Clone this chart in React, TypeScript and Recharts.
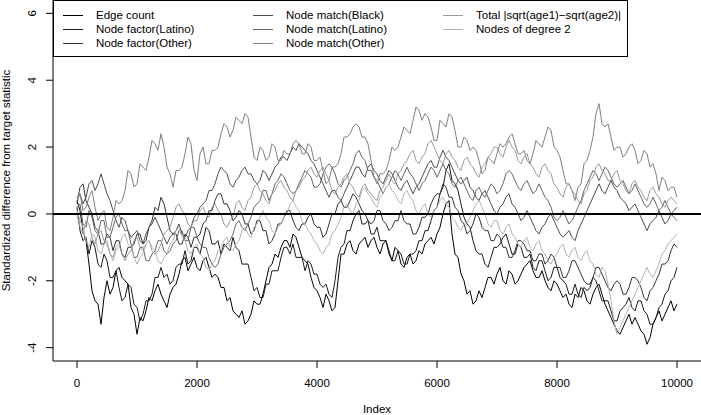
import React from 'react';
import { LineChart, Line, XAxis, YAxis, ReferenceLine, Legend } from 'recharts';

const indexValues = [
  0, 50, 100, 150, 200, 250, 300, 350, 400, 450,
  500, 550, 600, 650, 700, 750, 800, 850, 900, 950,
  1000, 1050, 1100, 1150, 1200, 1250, 1300, 1350, 1400, 1450,
  1500, 1550, 1600, 1650, 1700, 1750, 1800, 1850, 1900, 1950,
  2000, 2050, 2100, 2150, 2200, 2250, 2300, 2350, 2400, 2450,
  2500, 2550, 2600, 2650, 2700, 2750, 2800, 2850, 2900, 2950,
  3000, 3050, 3100, 3150, 3200, 3250, 3300, 3350, 3400, 3450,
  3500, 3550, 3600, 3650, 3700, 3750, 3800, 3850, 3900, 3950,
  4000, 4050, 4100, 4150, 4200, 4250, 4300, 4350, 4400, 4450,
  4500, 4550, 4600, 4650, 4700, 4750, 4800, 4850, 4900, 4950,
  5000, 5050, 5100, 5150, 5200, 5250, 5300, 5350, 5400, 5450,
  5500, 5550, 5600, 5650, 5700, 5750, 5800, 5850, 5900, 5950,
  6000, 6050, 6100, 6150, 6200, 6250, 6300, 6350, 6400, 6450,
  6500, 6550, 6600, 6650, 6700, 6750, 6800, 6850, 6900, 6950,
  7000, 7050, 7100, 7150, 7200, 7250, 7300, 7350, 7400, 7450,
  7500, 7550, 7600, 7650, 7700, 7750, 7800, 7850, 7900, 7950,
  8000, 8050, 8100, 8150, 8200, 8250, 8300, 8350, 8400, 8450,
  8500, 8550, 8600, 8650, 8700, 8750, 8800, 8850, 8900, 8950,
  9000, 9050, 9100, 9150, 9200, 9250, 9300, 9350, 9400, 9450,
  9500, 9550, 9600, 9650, 9700, 9750, 9800, 9850, 9900, 9950,
  10000,
];

const edgeCount = [
  0.4, 0.1, -0.5, -0.8, -1.5, -2.3, -2.6, -2.7, -3.3, -2.5, -2.0, -2.4, -2.2, -1.7, -1.6, -1.9, -2.0, -2.1, -2.8, -3.0,
  -3.6, -3.1, -3.2, -2.9, -2.5, -2.6, -2.3, -2.1, -2.4, -2.6, -2.8, -2.4, -2.2, -2.1, -1.8, -1.4, -1.3, -1.7, -1.5, -1.3,
  -1.6, -1.7, -1.4, -1.3, -1.6, -1.9, -1.8, -1.9, -2.2, -2.2, -2.6, -2.5, -2.9, -3.0, -3.1, -2.9, -3.3, -3.2, -3.0, -2.6,
  -2.7, -2.7, -2.4, -2.0, -1.6, -1.5, -1.2, -1.3, -1.0, -0.8, -0.8, -1.0, -0.6, -0.7, -1.0, -1.3, -1.4, -1.5, -1.9, -2.2,
  -2.3, -2.5, -2.8, -2.4, -2.6, -2.9, -2.8, -2.0, -1.2, -1.2, -0.9, -0.8, -1.1, -1.2, -0.9, -0.8, -0.7, -1.0, -0.8, -0.7,
  -1.0, -1.2, -0.9, -0.8, -1.2, -1.4, -1.0, -1.1, -1.5, -1.6, -1.3, -1.2, -1.5, -1.4, -1.1, -1.2, -0.9, -0.8, -0.7, -0.9,
  -0.6, -0.4, 0.0, 0.3, 0.4, -0.6, -1.2, -1.3, -1.8, -2.0, -2.4, -2.3, -2.7, -2.6, -2.3, -2.5, -2.2, -1.9, -1.9, -2.1,
  -1.8, -1.6, -2.0, -2.1, -1.7, -1.8, -2.1, -2.0, -1.8, -1.6, -1.5, -1.4, -1.7, -1.9, -1.9, -1.7, -2.0, -2.2, -2.3, -2.0,
  -2.1, -2.3, -2.5, -2.4, -2.7, -2.8, -2.4, -2.5, -2.2, -2.3, -2.6, -2.7, -2.4, -2.2, -2.1, -2.4, -2.7, -2.9, -3.1, -3.3,
  -3.5, -3.6, -3.4, -3.2, -3.0, -3.3, -3.1, -3.3, -3.5, -3.6, -3.9, -3.7, -3.3, -3.1, -2.9, -3.2, -3.0, -2.8, -2.6, -2.9,
  -2.7,
];

const nodeFactorLatino = [
  0.2, -0.5, -0.8, -0.7, -1.2, -0.8, -1.0, -1.5, -1.6, -1.2, -1.4, -1.9, -1.9, -1.7, -2.2, -2.6, -2.5, -2.1, -2.2, -2.7,
  -2.8, -3.2, -3.0, -2.6, -2.6, -2.4, -1.9, -1.9, -1.6, -1.9, -1.8, -2.1, -2.0, -1.6, -1.5, -1.5, -1.1, -1.5, -1.4, -1.0,
  -1.0, -1.2, -0.8, -0.4, -0.5, -0.9, -0.9, -0.8, -1.2, -0.9, -1.0, -1.1, -0.7, -1.0, -1.1, -1.5, -1.5, -1.5, -1.9, -2.3,
  -2.2, -2.5, -2.5, -2.1, -2.1, -1.7, -1.7, -1.7, -1.3, -1.0, -1.0, -1.2, -0.9, -1.3, -1.3, -1.3, -1.7, -1.4, -1.5, -1.8,
  -1.8, -2.1, -2.2, -2.1, -2.4, -2.5, -2.0, -1.3, -1.0, -0.9, -0.5, -0.5, -0.2, 0.0, 0.1, -0.3, -0.3, -0.2, -0.6, -0.6,
  -0.4, -0.8, -0.8, -0.8, -1.1, -1.4, -1.4, -1.1, -1.2, -1.5, -1.5, -1.2, -1.2, -1.1, -0.8, -0.8, -0.5, -0.5, -0.2, 0.1,
  0.2, 0.6, 0.8, 1.3, 1.5, 1.0, 0.9, 0.7, 0.3, -0.1, -0.3, -0.4, -0.8, -1.1, -1.2, -1.2, -1.5, -1.6, -1.3, -1.0,
  -1.0, -0.9, -0.7, -0.6, -0.9, -1.2, -1.2, -0.9, -1.0, -1.3, -1.3, -1.2, -1.6, -1.7, -1.4, -1.4, -1.7, -2.0, -1.9, -1.6,
  -1.6, -1.9, -2.0, -2.1, -2.4, -2.4, -2.1, -2.4, -2.5, -2.2, -2.3, -2.2, -1.9, -2.0, -2.3, -2.6, -2.6, -2.6, -2.9, -3.2,
  -3.2, -2.9, -2.8, -2.7, -2.5, -2.8, -2.9, -2.6, -2.6, -2.9, -3.0, -3.3, -3.3, -3.1, -2.8, -2.7, -2.4, -2.3, -2.0, -1.9,
  -1.6,
];

const nodeFactorOther = [
  0.3, 0.8, 0.9, 0.4, 0.2, 0.0, -0.4, -0.5, -0.9, -0.9, -0.6, -0.7, -1.1, -0.8, -0.8, -1.2, -1.3, -1.0, -1.0, -0.9,
  -0.6, -0.6, -0.9, -0.8, -0.4, -0.2, 0.2, 0.1, 0.5, 0.3, -0.1, -0.5, -0.6, -0.6, -0.9, -0.9, -0.6, -0.7, -1.0, -0.7,
  -0.7, -0.6, -0.3, -0.2, 0.1, 0.1, 0.4, 0.6, 0.6, 0.3, 0.3, 0.1, -0.2, -0.1, 0.1, 0.0, -0.3, -0.3, -0.6, -0.5,
  -0.2, -0.2, -0.5, -0.5, -0.9, -0.8, -0.6, -0.3, -0.3, -0.1, 0.1, 0.1, -0.2, -0.4, -0.5, -0.3, -0.3, -0.1, 0.0, -0.3,
  -0.4, -0.4, -0.7, -0.6, -0.3, 0.0, 0.0, 0.3, 0.4, 0.2, 0.2, 0.4, 0.6, 0.5, 0.3, 0.1, 0.0, -0.2, -0.3, -0.2,
  0.1, 0.1, -0.2, -0.3, -0.5, -0.4, -0.2, -0.2, 0.1, -0.2, -0.3, -0.3, -0.6, -0.6, -0.4, -0.1, -0.1, 0.0, 0.3, 0.5,
  0.6, 0.6, 0.9, 0.8, 0.5, 0.5, 0.2, 0.1, -0.2, -0.3, -0.6, -0.5, -0.3, 0.0, -0.1, -0.4, -0.5, -0.5, -0.8, -0.8,
  -0.6, -0.7, -1.0, -1.0, -1.3, -1.3, -1.1, -0.8, -0.8, -0.9, -1.1, -1.1, -1.4, -1.4, -1.2, -1.2, -1.5, -1.4, -1.2, -1.3,
  -1.6, -1.6, -1.9, -1.9, -1.7, -1.4, -1.4, -1.6, -1.8, -2.0, -2.1, -2.1, -1.9, -1.6, -1.6, -1.8, -2.0, -2.2, -2.3, -2.1,
  -2.0, -2.1, -2.4, -2.4, -2.2, -1.9, -1.9, -2.0, -2.2, -2.5, -2.6, -2.3, -2.2, -2.0, -1.8, -1.5, -1.5, -1.4, -1.1, -0.9,
  -1.0,
];

const nodeMatchBlack = [
  0.5, 0.6, 0.3, 0.5, 0.9, 1.0, 0.7, 0.9, 1.2, 0.9, 0.6, 0.4, 0.1, -0.2, -0.4, -0.1, -0.2, -0.5, -0.7, -0.6,
  -0.5, -0.8, -0.9, -0.6, -0.4, -0.3, -0.1, -0.3, -0.5, -0.7, -0.9, -0.7, -0.6, -0.5, -0.3, -0.6, -0.7, -0.5, -0.4, -0.1,
  0.0, 0.2, 0.3, 0.4, 0.7, 0.7, 0.9, 1.2, 1.4, 1.3, 1.2, 0.9, 0.8, 1.0, 1.1, 1.3, 1.4, 1.2, 1.2, 1.0,
  0.9, 1.0, 1.3, 1.2, 1.0, 1.2, 1.4, 1.5, 1.7, 1.7, 1.6, 1.8, 2.0, 1.9, 2.1, 2.0, 1.9, 1.8, 1.6, 1.5,
  1.3, 1.1, 0.9, 0.7, 0.5, 0.7, 0.7, 0.5, 0.4, 0.6, 0.8, 1.0, 1.2, 1.4, 1.4, 1.2, 1.1, 1.4, 1.5, 1.3,
  1.2, 1.0, 0.9, 1.1, 1.3, 1.2, 1.0, 0.8, 0.7, 0.9, 1.0, 0.8, 0.6, 0.8, 0.9, 1.1, 1.3, 1.5, 1.6, 1.4,
  1.4, 1.7, 1.9, 1.7, 1.6, 1.4, 1.2, 1.0, 0.9, 1.0, 1.1, 0.8, 0.7, 0.5, 0.4, 0.6, 0.7, 0.5, 0.3, 0.1,
  0.0, 0.2, 0.3, 0.5, 0.6, 0.3, 0.2, 0.0, -0.2, -0.1, 0.1, -0.1, -0.3, -0.5, -0.6, -0.4, -0.3, -0.1, 0.0, -0.2,
  -0.4, -0.6, -0.7, -0.6, -0.5, -0.7, -0.8, -0.5, -0.3, -0.1, 0.1, 0.3, 0.5, 0.7, 0.9, 0.7, 0.6, 0.8, 1.0, 0.8,
  0.7, 0.5, 0.4, 0.3, 0.1, 0.2, 0.3, 0.1, -0.1, -0.3, -0.5, -0.3, -0.2, -0.1, 0.1, -0.1, -0.3, -0.2, 0.0, 0.1,
  0.2,
];

const nodeMatchLatino = [
  0.2, 0.3, -0.3, -0.4, 0.1, -0.1, -0.5, -0.6, -0.2, -0.2, -0.7, -0.7, -0.4, -0.1, 0.0, -0.3, -0.5, -0.5, -0.9, -1.3,
  -1.3, -1.0, -1.0, -1.4, -1.4, -1.2, -1.1, -0.8, -0.8, -1.1, -1.2, -1.1, -0.9, -0.8, -0.5, -0.5, -0.8, -0.8, -0.4, -0.4,
  -0.7, -0.9, -1.0, -1.0, -1.3, -1.5, -1.6, -1.5, -1.2, -1.0, -0.9, -0.8, -0.6, -0.3, -0.2, -0.4, -0.5, -0.3, -0.1, 0.2,
  0.3, 0.4, 0.7, 0.7, 0.4, 0.6, 0.9, 1.0, 1.2, 1.1, 0.9, 0.7, 0.6, 0.7, 0.9, 1.1, 1.3, 1.2, 1.1, 0.8,
  0.8, 0.9, 1.2, 1.4, 1.5, 1.4, 1.2, 0.9, 0.8, 1.0, 1.1, 1.3, 1.5, 1.8, 1.9, 1.7, 1.6, 1.3, 1.3, 1.1,
  1.0, 0.8, 0.6, 0.8, 0.9, 1.1, 1.3, 1.2, 1.0, 1.2, 1.4, 1.2, 1.1, 0.9, 0.7, 0.9, 1.0, 1.2, 1.4, 1.3,
  1.1, 1.3, 1.5, 1.3, 1.2, 0.9, 0.8, 1.0, 1.1, 0.9, 0.7, 0.5, 0.4, 0.7, 0.8, 0.6, 0.5, 0.7, 0.9, 0.8,
  0.6, 0.7, 0.9, 1.2, 1.3, 1.2, 1.0, 0.8, 0.7, 0.9, 1.0, 0.8, 0.6, 0.7, 0.9, 0.7, 0.5, 0.4, 0.2, -0.1,
  -0.2, -0.1, 0.1, -0.1, -0.3, -0.2, 0.0, 0.2, 0.4, 0.7, 0.9, 1.1, 1.3, 1.2, 1.0, 1.2, 1.4, 1.3, 1.1, 0.9,
  0.8, 0.9, 1.0, 0.8, 0.6, 0.7, 0.9, 0.7, 0.5, 0.3, 0.2, 0.3, 0.5, 0.3, 0.1, 0.2, 0.4, 0.2, 0.0, -0.1,
  -0.2,
];

const nodeMatchOther = [
  0.4, 0.6, 0.1, 0.2, 0.5, 0.7, 0.2, -0.2, 0.0, 0.1, -0.4, -0.5, -0.1, 0.4, 0.3, 0.4, 0.7, 1.3, 1.2, 0.8,
  0.9, 1.5, 1.4, 1.3, 1.7, 2.2, 2.1, 1.9, 2.4, 2.0, 1.4, 1.2, 0.8, 1.3, 1.3, 1.4, 1.8, 2.3, 2.1, 1.3,
  1.0, 1.8, 2.0, 1.5, 1.5, 1.9, 1.9, 2.0, 2.4, 2.7, 2.6, 2.3, 2.5, 2.9, 2.8, 2.7, 3.0, 2.9, 2.3, 1.7,
  1.6, 2.0, 1.9, 1.6, 1.7, 2.1, 2.0, 1.6, 1.6, 1.9, 1.8, 1.8, 2.1, 2.2, 2.1, 1.8, 1.8, 2.1, 2.0, 1.6,
  1.6, 1.7, 1.3, 0.9, 1.0, 1.4, 1.4, 1.5, 1.8, 2.3, 2.3, 2.4, 2.6, 2.7, 2.6, 2.3, 2.3, 2.1, 1.6, 1.1,
  0.9, 1.2, 1.2, 1.3, 1.6, 2.0, 1.9, 2.0, 2.3, 2.6, 2.5, 2.4, 2.8, 3.2, 3.1, 2.8, 3.0, 2.9, 2.6, 2.2,
  2.2, 2.8, 2.7, 2.6, 3.0, 2.9, 2.5, 2.0, 2.0, 2.3, 2.2, 1.9, 2.0, 1.9, 1.6, 1.2, 1.3, 1.7, 1.6, 1.5,
  1.8, 2.1, 2.0, 2.1, 2.3, 2.4, 2.1, 1.8, 1.8, 1.9, 1.6, 1.5, 1.8, 2.2, 2.1, 2.0, 2.3, 2.6, 2.5, 2.0,
  1.9, 1.7, 1.3, 0.9, 0.9, 0.7, 0.4, 0.8, 0.9, 1.5, 1.6, 1.9, 2.3, 3.0, 3.3, 2.7, 2.6, 2.7, 2.3, 1.9,
  2.0, 2.0, 1.7, 1.8, 2.0, 2.1, 1.9, 1.5, 1.6, 1.9, 1.8, 1.4, 1.5, 1.2, 0.7, 1.1, 1.0, 0.7, 0.8, 0.8,
  0.5,
];

const totalSqrtAge = [
  0.0, -0.4, -0.6, -0.2, -0.3, -0.7, -0.9, -0.6, -0.5, -0.8, -0.9, -1.2, -1.3, -1.0, -0.9, -1.2, -1.4, -1.2, -1.1, -0.8,
  -0.7, -1.0, -1.1, -0.9, -0.8, -1.1, -1.2, -1.1, -0.9, -0.6, -0.5, -0.4, -0.1, 0.2, 0.3, 0.1, 0.0, -0.3, -0.4, -0.2,
  -0.2, 0.1, 0.2, 0.0, -0.1, 0.2, 0.3, 0.1, 0.0, -0.3, -0.4, -0.2, -0.1, 0.3, 0.4, 0.2, 0.1, 0.4, 0.5, 0.8,
  0.9, 0.7, 0.6, 0.4, 0.3, 0.6, 0.7, 0.9, 1.0, 0.8, 0.7, 0.5, 0.4, 0.7, 0.8, 1.0, 1.1, 1.3, 1.4, 1.2,
  1.1, 1.3, 1.4, 1.2, 1.0, 0.7, 0.6, 0.8, 0.9, 1.1, 1.2, 0.9, 0.8, 0.6, 0.5, 0.8, 0.9, 0.7, 0.6, 0.5,
  0.4, 0.7, 0.8, 1.0, 1.2, 1.0, 0.9, 1.2, 1.3, 1.5, 1.6, 1.8, 1.9, 1.6, 1.5, 1.7, 1.8, 2.1, 2.2, 2.0,
  1.8, 1.6, 1.5, 1.8, 1.9, 1.7, 1.6, 1.4, 1.3, 1.6, 1.7, 1.5, 1.4, 1.2, 1.1, 1.4, 1.5, 1.7, 1.8, 2.0,
  2.0, 1.8, 1.7, 2.0, 2.2, 2.0, 1.9, 1.6, 1.5, 1.7, 1.8, 1.5, 1.4, 1.2, 1.1, 1.4, 1.5, 1.3, 1.2, 0.9,
  0.8, 0.6, 0.5, 0.8, 0.9, 0.7, 0.6, 0.4, 0.3, 0.6, 0.7, 1.0, 1.1, 1.4, 1.5, 1.3, 1.2, 1.0, 1.0, 1.2,
  1.3, 1.0, 0.9, 0.7, 0.6, 0.9, 1.0, 0.8, 0.7, 0.5, 0.4, 0.7, 0.8, 0.6, 0.5, 0.3, 0.2, 0.4, 0.5, 0.4,
  0.3,
];

const nodesDegree2 = [
  0.1, -0.2, -0.4, -0.8, -1.0, -0.6, -0.7, -1.1, -1.2, -0.9, -0.8, -1.2, -1.4, -1.1, -1.0, -0.7, -0.6, -0.9, -1.0, -1.3,
  -1.5, -1.3, -1.2, -0.9, -0.8, -1.0, -1.1, -1.4, -1.5, -1.3, -1.2, -0.9, -0.8, -0.5, -0.4, -0.7, -0.8, -1.1, -1.2, -1.0,
  -0.9, -1.2, -1.3, -1.6, -1.7, -1.5, -1.4, -1.1, -1.0, -0.8, -0.7, -1.0, -1.1, -0.9, -0.8, -0.5, -0.4, -0.6, -0.7, -0.4,
  -0.3, -0.1, 0.1, -0.1, -0.2, -0.5, -0.6, -0.4, -0.3, -0.1, 0.0, 0.3, 0.4, 0.2, 0.1, -0.2, -0.3, -0.5, -0.6, -0.8,
  -0.9, -1.1, -1.2, -1.0, -0.9, -0.6, -0.5, -0.3, -0.1, 0.2, 0.3, 0.1, 0.0, 0.3, 0.4, 0.7, 0.8, 0.6, 0.5, 0.3,
  0.2, 0.5, 0.6, 0.8, 0.9, 0.7, 0.6, 0.4, 0.3, 0.6, 0.7, 0.5, 0.4, 0.1, 0.0, 0.2, 0.3, 0.0, -0.1, 0.1,
  0.2, 0.4, 0.5, 0.3, 0.2, -0.1, -0.2, -0.4, -0.5, -0.3, -0.3, -0.1, 0.1, 0.3, 0.4, 0.2, 0.0, -0.3, -0.4, -0.2,
  -0.2, -0.5, -0.6, -0.4, -0.3, -0.6, -0.7, -0.9, -1.0, -0.8, -0.7, -1.0, -1.1, -0.9, -0.8, -1.1, -1.2, -1.4, -1.5, -1.3,
  -1.2, -1.0, -0.9, -1.2, -1.3, -1.1, -1.0, -1.3, -1.4, -1.2, -1.1, -1.4, -1.5, -1.8, -1.9, -1.6, -1.7, -2.1, -2.6, -3.2,
  -3.6, -3.4, -3.2, -3.0, -2.8, -2.6, -2.4, -2.2, -2.0, -1.8, -1.6, -1.8, -1.9, -1.7, -1.5, -1.2, -1.1, -0.9, -0.8, -0.7,
  -0.6,
];

const seriesNames = [
  'Edge count',
  'Node factor(Latino)',
  'Node factor(Other)',
  'Node match(Black)',
  'Node match(Latino)',
  'Node match(Other)',
  'Total |sqrt(age1)\u2212sqrt(age2)|',
  'Nodes of degree 2',
];
const seriesColors = ['#000000', '#1a1a1a', '#333333', '#4d4d4d', '#666666', '#808080', '#999999', '#b3b3b3'];
const seriesKeys = ['s1', 's2', 's3', 's4', 's5', 's6', 's7', 's8'];
const seriesValues = [
  edgeCount, nodeFactorLatino, nodeFactorOther, nodeMatchBlack,
  nodeMatchLatino, nodeMatchOther, totalSqrtAge, nodesDegree2,
];

const xTicks = [0, 2000, 4000, 6000, 8000, 10000];
const yTicks = [-4, -2, 0, 2, 4, 6];

const data = indexValues.map((x, i) => {
  const row: Record<string, number> = { x };
  seriesValues.forEach((s, k) => {
    row[seriesKeys[k]] = s[i];
  });
  return row;
});

const FONT = '"Liberation Sans", Arial, Helvetica, sans-serif';
const FS = 11.5;

const XTick = (props: any) => {
  const { x, payload } = props;
  return (
    <text x={x} y={387} textAnchor="middle" fontSize={FS} fontFamily={FONT} fill="#000">
      {String(payload.value)}
    </text>
  );
};

const YTick = (props: any) => {
  const { y, payload } = props;
  return (
    <text
      x={0}
      y={0}
      transform={`translate(36, ${y}) rotate(-90)`}
      textAnchor="middle"
      fontSize={FS}
      fontFamily={FONT}
      fill="#000"
    >
      {String(payload.value)}
    </text>
  );
};

const LegendBox = () => {
  const colX = [10, 200, 390];
  const rowY = [15, 29, 43];
  return (
    <svg width={576} height={60} style={{ display: 'block' }}>
      <rect x={0.5} y={0.5} width={574} height={56} fill="#fff" stroke="#000" strokeWidth={1} />
      {seriesNames.map((name, i) => {
        const c = Math.floor(i / 3);
        const r = i % 3;
        const lx = colX[c];
        const ly = rowY[r];
        return (
          <g key={name}>
            <line x1={lx} x2={lx + 20} y1={ly + 0.5} y2={ly + 0.5} stroke={seriesColors[i]} strokeWidth={1} />
            <text x={lx + 33} y={ly + 4.2} fontSize={FS} fontFamily={FONT} fill="#000">
              {name}
            </text>
          </g>
        );
      })}
    </svg>
  );
};

export default function App() {
  return (
    <div style={{ position: 'absolute', left: 0, top: 0, width: 701, height: 415, background: '#fff' }}>
      <LineChart width={701} height={415} data={data} margin={{ top: 0, right: 0, bottom: 0, left: 0 }}>
        <XAxis
          dataKey="x"
          type="number"
          domain={[-400, 10400]}
          ticks={xTicks}
          height={54}
          axisLine={{ stroke: '#000', strokeWidth: 1 }}
          tickLine={{ stroke: '#000', strokeWidth: 1 }}
          tickSize={7}
          tick={XTick}
          interval={0}
          label={() => (
            <text x={377} y={413} textAnchor="middle" fontSize={FS} fontFamily={FONT} fill="#000">
              Index
            </text>
          )}
        />
        <YAxis
          type="number"
          domain={[-4.4, 6.4]}
          ticks={yTicks}
          width={53}
          axisLine={{ stroke: '#000', strokeWidth: 1 }}
          tickLine={{ stroke: '#000', strokeWidth: 1 }}
          tickSize={7}
          tick={YTick}
          interval={0}
          allowDataOverflow
          label={() => (
            <text
              x={0}
              y={0}
              transform="translate(10, 180.5) rotate(-90)"
              textAnchor="middle"
              fontSize={FS}
              fontFamily={FONT}
              fill="#000"
            >
              Standardized difference from target statistic
            </text>
          )}
        />
        {seriesKeys.map((k, i) => (
          <Line
            key={k}
            type="linear"
            dataKey={k}
            stroke={seriesColors[i]}
            strokeWidth={1}
            dot={false}
            activeDot={false}
            isAnimationActive={false}
            name={seriesNames[i]}
          />
        ))}
        <ReferenceLine y={0} stroke="#000" strokeWidth={2} />
        <Legend
          layout="vertical"
          align="center"
          verticalAlign="middle"
          content={LegendBox}
          wrapperStyle={{ position: 'absolute', left: 53, top: 0, width: 576, height: 60, margin: 0, padding: 0 }}
        />
      </LineChart>
    </div>
  );
}
